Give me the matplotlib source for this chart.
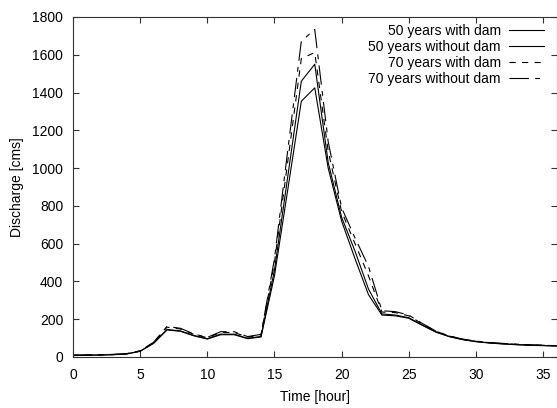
import numpy as np
import matplotlib
matplotlib.use("Agg")
import matplotlib.pyplot as plt
import matplotlib.ticker as ticker

plt.rcParams['font.family'] = ['Liberation Sans', 'DejaVu Sans']
plt.rcParams['lines.scale_dashes'] = False

# hourly discharge [cms]
hours = list(range(0, 37))

q50_dam = [8, 9, 10, 12, 16, 30, 72, 143, 136, 112, 95, 118, 118, 97, 106,
           430, 890, 1354, 1425, 1000, 720, 520, 330, 222, 218, 205, 168,
           132, 108, 92, 81, 74, 69, 65, 62, 60, 58]
q50_nodam = [9, 10, 11, 13, 17, 31, 74, 146, 138, 114, 97, 121, 121, 99, 109,
             460, 960, 1460, 1550, 1030, 740, 560, 360, 228, 222, 208, 170,
             134, 109, 93, 82, 75, 70, 66, 63, 61, 59]
q70_dam = [9, 10, 11, 13, 17, 32, 76, 158, 148, 120, 102, 130, 130, 105, 117,
           500, 1040, 1580, 1612, 1090, 770, 600, 430, 238, 235, 218, 176,
           137, 111, 94, 83, 76, 71, 67, 64, 62, 60]
q70_nodam = [10, 11, 12, 14, 18, 33, 78, 162, 152, 122, 104, 134, 134, 108, 120,
             520, 1100, 1672, 1734, 1140, 790, 630, 480, 245, 240, 222, 178,
             138, 112, 95, 84, 77, 72, 68, 65, 62, 60]

labels = ["50 years with dam", "50 years without dam",
          "70 years with dam", "70 years without dam"]

fig = plt.figure(figsize=(5.57, 4.08), dpi=100)
ax = fig.add_axes([73 / 557, 51 / 408, 483.5 / 557, 340 / 408])

lw = 0.8
ax.plot(hours, q50_dam, color="black", lw=lw, label=labels[0])
ax.plot(hours, q50_nodam, color="black", lw=lw, label=labels[1])
ax.plot(hours, q70_dam, color="black", lw=lw, dashes=(4.5, 4.5), label=labels[2])
ax.plot(hours, q70_nodam, color="black", lw=lw, dashes=(14, 4.5, 3.5, 4.5),
        label=labels[3])

ax.set_xlim(0, 36)
ax.set_ylim(0, 1800)
ax.xaxis.set_major_locator(ticker.MultipleLocator(5))
ax.yaxis.set_major_locator(ticker.MultipleLocator(200))
ax.tick_params(direction="in", top=True, right=True, length=4, width=0.8,
               labelsize=10, color="#333333")
ax.tick_params(axis="x", pad=8)
ax.tick_params(axis="y", pad=7)
for s in ax.spines.values():
    s.set_linewidth(0.8)
    s.set_color("#333333")

ax.set_xlabel("Time [hour]", fontsize=10, labelpad=6)
ax.set_ylabel("Discharge [cms]", fontsize=10, labelpad=6)

ax.legend(loc="upper right", bbox_to_anchor=(0.988, 1.0), frameon=False,
          markerfirst=False, fontsize=10, handlelength=2.5, handletextpad=0.6,
          labelspacing=0.15, borderaxespad=0.1)

plt.savefig("out.png", dpi=100)
plt.close()
